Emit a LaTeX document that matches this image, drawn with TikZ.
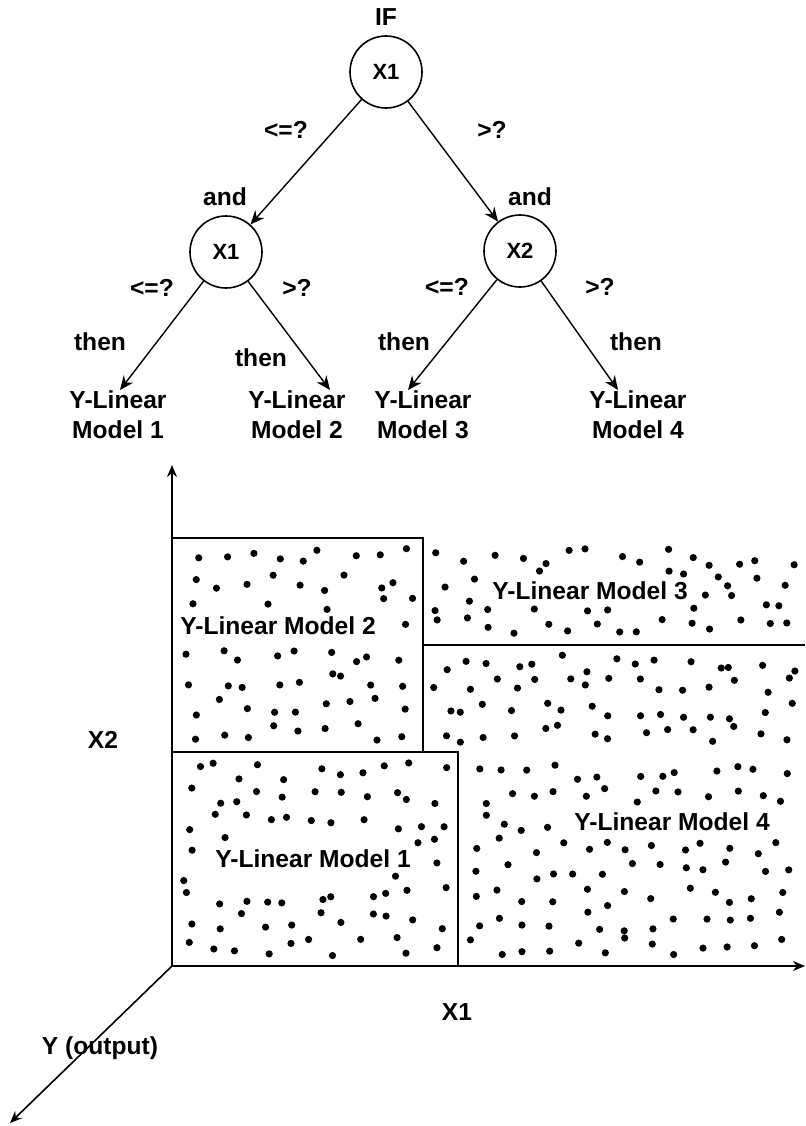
\documentclass[tikz,border=0pt]{standalone}
\usepackage{fontspec}
\setmainfont{Liberation Sans}
\usetikzlibrary{positioning,arrows.meta}

%% scatter of data points in a region, leaving a hole for its label
\newcommand\dotgap{25}
\newcommand\scatterdots[8]{%
	\pgfmathtruncatemacro\ncol{max(1,round((#3-#1-14)/\dotgap))}
	\pgfmathtruncatemacro\nrow{max(1,round((#4-#2-14)/\dotgap))}
	\pgfmathsetmacro\cw{(#3-#1-14)/\ncol}
	\pgfmathsetmacro\ch{(#4-#2-14)/\nrow}
	\foreach \i in {1,...,\ncol}{
		\foreach \j in {1,...,\nrow}{
			\pgfmathsetmacro\px{#1+7+(\i-0.5)*\cw+0.38*rand*\cw}
			\pgfmathsetmacro\py{#2+7+(\j-0.5)*\ch+0.38*rand*\ch}
			\pgfmathtruncatemacro\hide{(\px>#5)*(\px<#7)*(\py>#6)*(\py<#8)}
			\ifnum\hide=0 \fill (\px,\py) circle (1.8pt);\fi
		}
	}
}

\begin{document}
\begin{tikzpicture}[x=0.5pt,y=-0.5pt]
	\tikzset{split/.style={circle,draw,line width=0.8pt,minimum size=36pt,inner sep=0pt,
			font=\fontsize{11}{13}\selectfont\bfseries}}
	\tikzset{lbl/.style={font=\fontsize{12.3}{15}\selectfont\bfseries,inner sep=0pt}}
	\tikzset{leaf/.style={lbl,align=center,anchor=north}}
	\tikzset{link/.style={-{Stealth[length=7pt,width=6pt]},line width=0.7pt}}
	\tikzset{axis/.style={-{Stealth[length=6pt,width=5pt]},line width=0.8pt}}
	\tikzset{region/.style={line width=0.9pt}}

	\useasboundingbox (0,0) rectangle (805,1126);

	%% decision tree
	\node[split] (root) at (386,72) {X1};
	\node[split] (c1) at (226,252) {X1};
	\node[split] (c2) at (520,251) {X2};
	\node[leaf] (l1) at (118,390) {Y-Linear\\Model 1};
	\node[leaf] (l2) at (297,390) {Y-Linear\\Model 2};
	\node[leaf] (l3) at (423,390) {Y-Linear\\Model 3};
	\node[leaf] (l4) at (638,390) {Y-Linear\\Model 4};
	\path[link]
		(root) edge (c1)
		(root) edge (c2)
		(c1) edge ([xshift=1pt]l1.north)
		(c1) edge ([xshift=16.5pt]l2.north)
		(c2) edge ([xshift=-7.5pt]l3.north)
		(c2) edge ([xshift=-10pt]l4.north);

	\node[lbl,above=4.5pt of root] (if) {IF};
	\node[lbl] (and1) at (225,197) {and};
	\node[lbl] (and2) at (530,197) {and};
	\node[lbl] (le0) at (286,130) {<=?};
	\node[lbl] (gt0) at (492,130) {>?};
	\node[lbl] (le1) at (152,288) {<=?};
	\node[lbl] (gt1) at (297,288) {>?};
	\node[lbl] (le2) at (447,287) {<=?};
	\node[lbl] (gt2) at (600,287) {>?};
	\node[lbl] (then1) at (100,342) {then};
	\node[lbl] (then2) at (261,358) {then};
	\node[lbl] (then3) at (404,342) {then};
	\node[lbl] (then4) at (636,342) {then};

	%% feature space
	\coordinate (o) at (172,966);
	\coordinate (ytop) at (172,465);
	\coordinate (xend) at (805,966);
	\coordinate (zend) at (10,1123);
	\draw[axis] (o) -- (ytop);
	\draw[axis] (o) -- (xend);
	\draw[axis] (o) -- (zend);

	\draw[region] (172,538) -- (423,538) -- (423,752);
	\draw[region] (423,645) -- (805,645);
	\draw[region] (172,752) -- (458,752) -- (458,966);

	\pgfmathsetseed{11}
	\scatterdots{172}{538}{423}{752}{174}{610}{386}{643}
	\scatterdots{423}{538}{805}{645}{484}{576}{698}{607}
	\scatterdots{172}{752}{458}{966}{206}{843}{420}{875}
	\scatterdots{423}{645}{805}{752}{0}{0}{0}{0}
	\scatterdots{458}{752}{805}{966}{566}{806}{780}{839}

	\node[lbl] (m2) at (278,626) {Y-Linear Model 2};
	\node[lbl] (m3) at (590,591) {Y-Linear Model 3};
	\node[lbl] (m1) at (313,859) {Y-Linear Model 1};
	\node[lbl] (m4) at (672,822) {Y-Linear Model 4};

	\node[lbl] (x2) at (103,740) {X2};
	\node[lbl] (x1) at (457,1012) {X1};
	\node[lbl] (yout) at (100,1048) {Y (output)};
\end{tikzpicture}
\end{document}
